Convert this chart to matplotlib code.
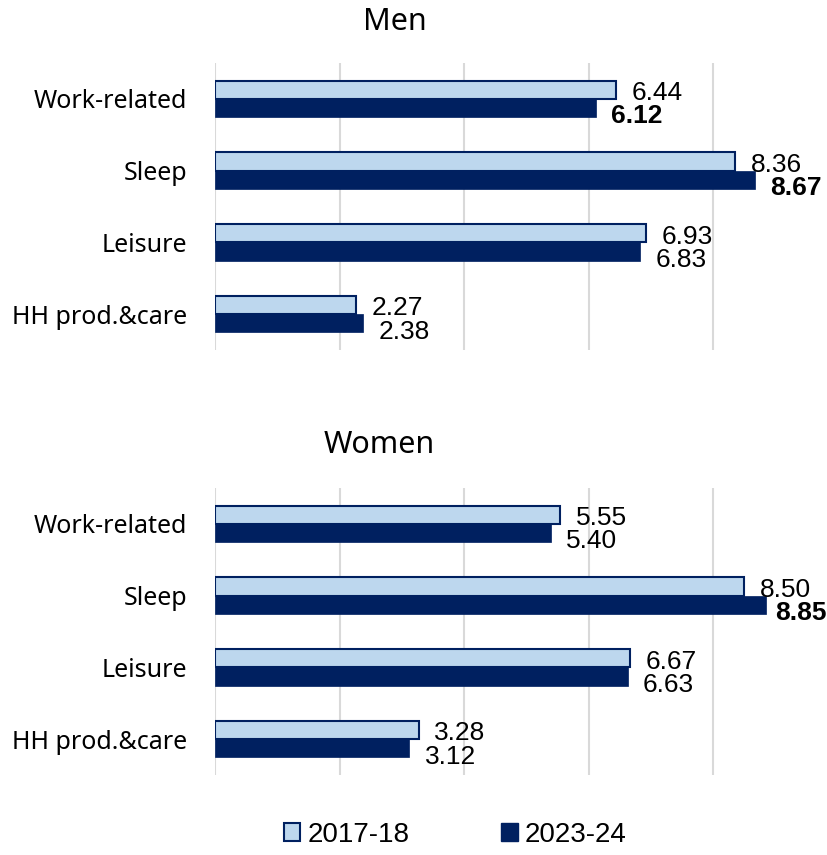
import matplotlib
matplotlib.use("Agg")
import matplotlib.pyplot as plt
from matplotlib.patches import Patch

# Average hours per day by activity
categories = ["Work-related", "Sleep", "Leisure", "HH prod.&care"]
men_2017 = [6.44, 8.36, 6.93, 2.27]
men_2023 = [6.12, 8.67, 6.83, 2.38]
women_2017 = [5.55, 8.50, 6.67, 3.28]
women_2023 = [5.40, 8.85, 6.63, 3.12]
# labels shown in bold
men_bold = [True, True, False, False]
women_bold = [False, True, False, False]

light = "#BDD7EE"
navy = "#002060"
grid_c = "#D9D9D9"
cat_font = "Noto Sans"
num_font = "Liberation Sans"

fig = plt.figure(figsize=(8.27, 8.55), dpi=100)

W = 827
H = 855
px_per_unit = 62.25
xmax = 9.7
left = 215 / W
width = xmax * px_per_unit / W


def label_gap(v):
    # pull labels in a bit when they would run past the right edge
    end_px = 215 + v * px_per_unit
    room = W - end_px - 52 * 1.0
    return max(4, min(11, room * 0.72))


def panel(top_px, bottom_px, old, new, bold):
    ax = fig.add_axes([left, 1 - bottom_px / H, width, (bottom_px - top_px) / H])
    y = list(range(len(categories)))
    h = 0.256
    ax.barh([i - h / 2 for i in y], old, height=h, color=light,
            edgecolor=navy, linewidth=1.5, zorder=3)
    ax.barh([i + h / 2 for i in y], new, height=h, color=navy,
            edgecolor=navy, linewidth=0.5, zorder=3)
    for i in y:
        ax.annotate(f"{old[i]:.2f}", (old[i], i - h / 2),
                    xytext=(label_gap(old[i]), -2.5),
                    textcoords="offset points", va="center", ha="left",
                    fontsize=19, family=num_font, color="black")
        ax.annotate(f"{new[i]:.2f}", (new[i], i + h / 2),
                    xytext=(label_gap(new[i]), -6),
                    textcoords="offset points", va="center", ha="left",
                    fontsize=19, family=num_font, color="black",
                    fontweight="bold" if bold[i] else "normal")
    ax.set_xlim(0, xmax)
    ax.set_ylim(len(categories) - 0.5, -0.5)
    ax.set_xticks([0, 2, 4, 6, 8])
    ax.set_xticklabels([])
    ax.grid(axis="x", color=grid_c, linewidth=1.5, zorder=0)
    ax.set_yticks(y)
    ax.set_yticklabels(categories, family=cat_font, fontsize=18)
    ax.tick_params(length=0, pad=20)
    for s in ax.spines.values():
        s.set_visible(False)
    return ax


panel(63, 350, men_2017, men_2023, men_bold)
panel(488, 775, women_2017, women_2023, women_bold)

fig.text(395 / W, 1 - 22 / H, "Men", ha="center", va="center",
         family=cat_font, fontsize=22)
fig.text(379 / W, 1 - 445 / H, "Women", ha="center", va="center",
         family=cat_font, fontsize=22)

handles = [Patch(facecolor=light, edgecolor=navy, linewidth=1.5, label="2017-18"),
           Patch(facecolor=navy, edgecolor=navy, label="2023-24")]
fig.legend(handles=handles, loc="center", bbox_to_anchor=(455 / W, 1 - 835 / H),
           ncol=2, frameon=False, handlelength=0.6, handleheight=0.6,
           handletextpad=0.25, columnspacing=3.3,
           prop={"family": num_font, "size": 20})

fig.savefig("out.png", dpi=100)
